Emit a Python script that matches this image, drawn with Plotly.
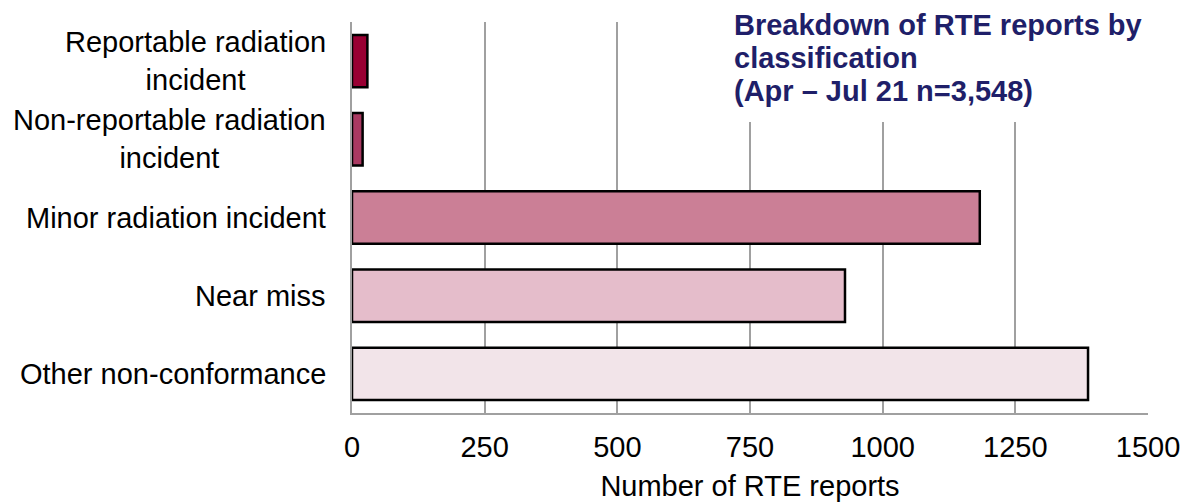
import plotly.graph_objects as go

categories = ["Reportable radiation<br>incident",
              "Non-reportable radiation<br>incident",
              "Minor radiation incident",
              "Near miss",
              "Other non-conformance"]
values = [29, 20, 1183, 929, 1387]
colors = ["#990033", "#AA3A62", "#CB7F96", "#E5BDCB", "#F2E4E9"]
x_ticks = [0, 250, 500, 750, 1000, 1250, 1500]
title_lines = ["Breakdown of RTE reports by", "classification", "(Apr \u2013 Jul 21 n=3,548)"]
x_title = "Number of RTE reports"

FONT = "Liberation Sans, Arial, sans-serif"
FS = 29
W, H = 1183, 502
ML, MR, MT, MB = 352, 35, 22, 89
PW, PH = W - ML - MR, H - MT - MB

fig = go.Figure(go.Bar(
    y=categories, x=values, orientation="h",
    marker=dict(color=colors, line=dict(color="black", width=2.5)),
    hoverinfo="x+y",
))

fig.update_layout(
    width=W, height=H,
    margin=dict(l=ML, r=MR, t=MT, b=MB, autoexpand=False),
    paper_bgcolor="white", plot_bgcolor="white",
    bargap=0.33, showlegend=False,
    font=dict(family=FONT, size=FS, color="black"),
    xaxis=dict(range=[0, 1500], tickvals=x_ticks, ticktext=[str(t) for t in x_ticks],
               showgrid=True, gridcolor="#A0A0A0", gridwidth=2,
               showline=True, linecolor="#A0A0A0", linewidth=2,
               zeroline=False, ticks="", ticklabelstandoff=7,
               tickfont=dict(size=FS),
               title=dict(text=x_title, font=dict(size=FS), standoff=17)),
    yaxis=dict(autorange="reversed", showticklabels=False, showgrid=False,
               showline=True, linecolor="#A0A0A0", linewidth=2, ticks=""),
)

# category labels, centered multi-line, right edge at ~26px left of axis
for c in categories:
    fig.add_annotation(text=c, xref="paper", yref="y", x=-24 / PW, y=c,
                       xanchor="right", yanchor="middle", align="center",
                       showarrow=False, font=dict(size=FS, color="black"))

# white box behind title covering gridlines
fig.add_shape(type="rect", xref="paper", yref="paper",
              x0=(700 - ML) / PW, x1=(1175 - ML) / PW,
              y0=(H - MB - 122) / PH, y1=1.1,
              fillcolor="white", line=dict(width=0), layer="above")

line_h = 33
for i, t in enumerate(title_lines):
    baseline = 35 + i * line_h
    fig.add_annotation(text="<b>" + t + "</b>", xref="paper", yref="paper",
                       x=(733 - ML) / PW, y=(H - MB - (baseline - 10)) / PH,
                       xanchor="left", yanchor="middle", showarrow=False, align="left",
                       font=dict(size=FS, color="#1F1F69"), borderpad=0)

fig.write_html("out.html", config={"displayModeBar": False},
               post_script="document.body.style.margin='0';document.body.style.overflow='hidden';")
